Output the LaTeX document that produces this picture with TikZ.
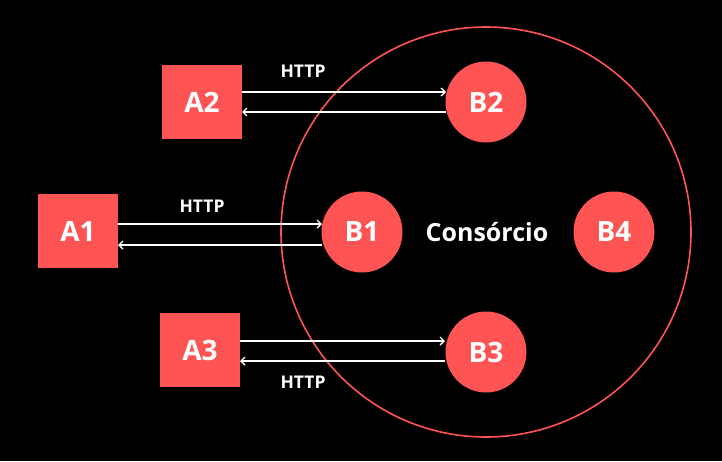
\documentclass[tikz,border=0pt]{standalone}
\usepackage{fontspec}
\setmainfont{Open Sans}
\usetikzlibrary{arrows.meta}
\definecolor{rd}{HTML}{FF5454}
\begin{document}
\begin{tikzpicture}[x=1pt,y=-1pt,
  sq/.style={fill=rd,draw=none,minimum width=80pt,minimum height=74pt,inner sep=0,text=white,font=\fontsize{28}{32}\selectfont\bfseries},
  cn/.style={circle,fill=rd,draw=none,minimum size=81pt,inner sep=0,text=white,font=\fontsize{28}{32}\selectfont\bfseries},
  lab/.style={text=white,font=\fontsize{17.5}{20}\selectfont\bfseries,inner sep=0},
  arr/.style={draw=white,line width=1.6pt,-{Straight Barb[length=4pt,width=8pt,line width=1.4pt]}}]
\fill[black] (0,0) rectangle (722,461);
\useasboundingbox (0,0) rectangle (722,461);
\node[circle,draw=rd,line width=1.6pt,minimum size=410pt,inner sep=0] (C) at (486,232) {};
\node[sq] (A2) at (202,102) {A2};
\node[sq] (A1) at (78,231) {A1};
\node[sq] (A3) at (200,350) {A3};
\node[cn] (B2) at (486,102) {B2};
\node[cn] (B1) at (362,232) {B1};
\node[cn] (B3) at (486,352) {B3};
\node[cn] (B4) at (614,232) {B4};
\node[text=white,font=\fontsize{25}{30}\selectfont\bfseries,inner sep=0] (cons) at (487,232) {Consórcio};
\coordinate (a2r1) at (242,92); \coordinate (b2l1) at (446,92);
\coordinate (a2r2) at (242,112); \coordinate (b2l2) at (446,112);
\draw[arr] (a2r1) -- (b2l1);
\draw[arr] (b2l2) -- (a2r2);
\coordinate (a1r1) at (118,224); \coordinate (b1l1) at (322,224);
\coordinate (a1r2) at (118,245); \coordinate (b1l2) at (322,245);
\draw[arr] (a1r1) -- (b1l1);
\draw[arr] (b1l2) -- (a1r2);
\coordinate (a3r1) at (240,341); \coordinate (b3l1) at (445,341);
\coordinate (a3r2) at (240,361); \coordinate (b3l2) at (445,361);
\draw[arr] (a3r1) -- (b3l1);
\draw[arr] (b3l2) -- (a3r2);
\node[lab] (h2) at (303,71) {HTTP};
\node[lab] (h1) at (202,206) {HTTP};
\node[lab] (h3) at (303,382) {HTTP};
\end{tikzpicture}
\end{document}
